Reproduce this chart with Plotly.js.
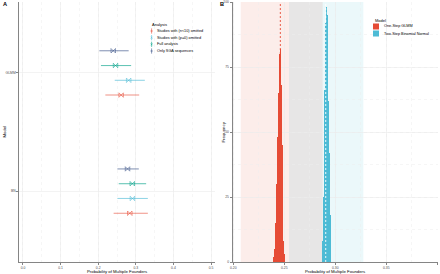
<!DOCTYPE html>
<html>
<head>
<meta charset="utf-8">
<script src="https://cdn.plot.ly/plotly-3.0.1.min.js"></script>
<style>html,body{margin:0;padding:0;background:#fff;}#chart{width:440px;height:274px;}</style>
</head>
<body>
<div id="chart"></div>
<script>
// ---------- DATA ----------
const models = ['BN', 'GLMM'];            // y categories, bottom to top
const analyses = ['Studies with (n<10) omitted', 'Studies with (p=0) omitted', 'Full analysis', 'Only SGA sequences'];
// estimates and interval bounds, ordered as models [BN, GLMM]
const estN10 = [0.284, 0.261];
const loN10  = [0.241, 0.219];
const hiN10  = [0.332, 0.309];
const estP0  = [0.291, 0.281];
const loP0   = [0.251, 0.244];
const hiP0   = [0.332, 0.324];
const estFull = [0.2906, 0.2461];
const loFull  = [0.2546, 0.2073];
const hiFull  = [0.3275, 0.2876];
const estSGA = [0.278, 0.240];
const loSGA  = [0.251, 0.203];
const hiSGA  = [0.308, 0.281];

const histModels = ['One-Step GLMM', 'Two-Step Binomial Normal'];
const glmmBins   = [0.239, 0.240, 0.241, 0.242, 0.243, 0.244, 0.245, 0.246, 0.247, 0.248, 0.249, 0.250];
const glmmCounts = [2, 5, 15, 30, 48, 65, 80, 82, 68, 45, 8, 3];
const bnBins     = [0.287, 0.288, 0.289, 0.290, 0.291, 0.292, 0.293, 0.294, 0.295];
const bnCounts   = [8, 25, 66, 92, 98, 95, 62, 42, 18];
const binWidth = 0.001;

const xTicksA = [0.0, 0.1, 0.2, 0.3, 0.4, 0.5];
const xTicksB = [0.20, 0.25, 0.30, 0.35, 0.40];
const yTicksB = [0, 25, 50, 75, 100];

// ---------- STYLE ----------
const W = 440, H = 274;
const px = v => v / W;
const py = v => 1 - v / H;
const anaColors = ['rgba(230,75,53,0.6)', 'rgba(77,187,213,0.6)', 'rgba(0,160,135,0.6)', 'rgba(60,84,136,0.6)'];
const histColors = ['#E64B35', '#4DBBD5'];
const tickFont = {family: 'Liberation Sans, Arial, sans-serif', size: 3.4, color: '#4D4D4D'};
const titleFont = {family: 'Liberation Sans, Arial, sans-serif', size: 4.3, color: '#000'};
const gridC = '#EBEBEB';

const series = [
  [estN10, loN10, hiN10],
  [estP0, loP0, hiP0],
  [estFull, loFull, hiFull],
  [estSGA, loSGA, hiSGA]
];

const traces = series.map((s, i) => ({
  type: 'scatter', mode: 'markers', orientation: 'h',
  x: s[0], y: models, name: analyses[i],
  xaxis: 'x', yaxis: 'y',
  marker: {symbol: 'bowtie-open', size: 4.5, color: anaColors[i], line: {width: 0.9, color: anaColors[i]}},
  error_x: {type: 'data', symmetric: false,
    array: s[2].map((h, k) => h - s[0][k]),
    arrayminus: s[1].map((l, k) => s[0][k] - l),
    color: anaColors[i], thickness: 1.1, width: 0},
  showlegend: false, hoverinfo: 'skip'
}));

traces.push({
  type: 'bar', x: glmmBins, y: glmmCounts, width: binWidth, name: histModels[0],
  xaxis: 'x2', yaxis: 'y2', marker: {color: histColors[0], line: {width: 0}}, showlegend: false
});
traces.push({
  type: 'bar', x: bnBins, y: bnCounts, width: binWidth, name: histModels[1],
  xaxis: 'x2', yaxis: 'y2', marker: {color: histColors[1], line: {width: 0}}, showlegend: false
});

const shapes = [];
// interval bands (Full analysis intervals): GLMM (index 1), BN (index 0)
shapes.push({type: 'rect', xref: 'x2', yref: 'y2 domain', x0: loFull[1], x1: loFull[0], y0: 0, y1: 1,
  fillcolor: 'rgba(230,75,53,0.1)', line: {width: 0}, layer: 'below'});
shapes.push({type: 'rect', xref: 'x2', yref: 'y2 domain', x0: loFull[0], x1: hiFull[1], y0: 0, y1: 1,
  fillcolor: 'rgba(150,145,145,0.23)', line: {width: 0}, layer: 'below'});
shapes.push({type: 'rect', xref: 'x2', yref: 'y2 domain', x0: hiFull[1], x1: hiFull[0], y0: 0, y1: 1,
  fillcolor: 'rgba(77,187,213,0.11)', line: {width: 0}, layer: 'below'});
// estimate lines
shapes.push({type: 'line', xref: 'x2', yref: 'y2 domain', x0: estFull[1], x1: estFull[1], y0: 0, y1: 1,
  line: {color: histColors[0], width: 0.9, dash: '2px,2px'}, layer: 'above'});
shapes.push({type: 'line', xref: 'x2', yref: 'y2 domain', x0: estFull[0], x1: estFull[0], y0: 0, y1: 1,
  line: {color: '#ffffff', width: 0.9, dash: '2px,2px'}, layer: 'above'});

const annotations = [];
const ann = (x, y, text, opts) => Object.assign({xref: 'paper', yref: 'paper', x: px(x), y: py(y), text: text,
  showarrow: false, xanchor: 'left', yanchor: 'middle', font: Object.assign({}, titleFont, {size: 3.8})}, opts || {});

// panel letters
annotations.push(ann(1.2, 3.8, '<b>A</b>', {font: Object.assign({}, titleFont, {size: 5.6})}));
annotations.push(ann(217.6, 3.8, '<b>B</b>', {font: Object.assign({}, titleFont, {size: 5.6})}));
// axis titles
annotations.push(ann(117, 271.3, 'Probability of Multiple Founders', {xanchor: 'center', font: titleFont}));
annotations.push(ann(335, 271.3, 'Probability of Multiple Founders', {xanchor: 'center', font: titleFont}));
annotations.push(ann(3.5, 132, 'Model', {xanchor: 'center', textangle: -90, font: titleFont}));
annotations.push(ann(222.5, 132, 'Frequency', {xanchor: 'center', textangle: -90, font: titleFont}));

// legend A
annotations.push(ann(149.8, 24, 'Analysis', {font: Object.assign({}, titleFont, {size: 4})}));
const legY = [31, 37.7, 44.3, 51];
analyses.forEach((a, i) => {
  annotations.push(ann(154.6, legY[i], a));
  shapes.push({type: 'line', xref: 'paper', yref: 'paper', x0: px(151.6), x1: px(151.6), y0: py(legY[i] - 2.6), y1: py(legY[i] + 2.6),
    line: {color: anaColors[i], width: 1}});
  shapes.push({type: 'line', xref: 'paper', yref: 'paper', x0: px(150.6), x1: px(152.6), y0: py(legY[i] - 1), y1: py(legY[i] + 1),
    line: {color: anaColors[i], width: 0.7}});
  shapes.push({type: 'line', xref: 'paper', yref: 'paper', x0: px(150.6), x1: px(152.6), y0: py(legY[i] + 1), y1: py(legY[i] - 1),
    line: {color: anaColors[i], width: 0.7}});
});
// legend B
annotations.push(ann(372.5, 20.5, 'Model', {font: Object.assign({}, titleFont, {size: 4})}));
const legYB = [26.5, 33.5];
histModels.forEach((m, i) => {
  shapes.push({type: 'rect', xref: 'paper', yref: 'paper', x0: px(373), x1: px(379), y0: py(legYB[i] - 3), y1: py(legYB[i] + 3),
    fillcolor: histColors[i], line: {width: 0}});
  annotations.push(ann(381.5, legYB[i], m));
});

const axBase = {
  showline: true, linecolor: '#333333', linewidth: 0.6,
  ticks: 'outside', ticklen: 2, tickwidth: 0.6, tickcolor: '#333333',
  tickfont: tickFont, showgrid: true, gridcolor: gridC, gridwidth: 0.6,
  zeroline: false, automargin: false, fixedrange: true
};
const minorDot = dt => ({dtick: dt, showgrid: true, griddash: 'dot', gridcolor: '#EEEEEE', gridwidth: 0.5, ticks: ''});

const yDom = [12 / H, 1 - 2 / H];
const layout = {
  width: W, height: H,
  margin: {l: 0, r: 0, t: 0, b: 0, pad: 0},
  paper_bgcolor: '#ffffff', plot_bgcolor: '#ffffff',
  showlegend: false,
  scattermode: 'group', scattergap: 0.5,
  barmode: 'overlay', bargap: 0,
  xaxis: Object.assign({}, axBase, {domain: [px(19), px(215)], range: [-0.0106, 0.5106], anchor: 'y',
    tickvals: xTicksA, ticktext: xTicksA.map(v => v.toFixed(1)), minor: minorDot(0.05)}),
  yaxis: Object.assign({}, axBase, {domain: yDom, type: 'category', categoryorder: 'array', categoryarray: models,
    range: [-0.6, 1.6], anchor: 'x'}),
  xaxis2: Object.assign({}, axBase, {domain: [px(232.3), px(438)], range: [0.199, 0.4007], anchor: 'y2',
    tickvals: xTicksB, ticktext: xTicksB.map(v => v.toFixed(2)), minor: minorDot(0.025)}),
  yaxis2: Object.assign({}, axBase, {domain: yDom, range: [0, 100], anchor: 'x2',
    tickvals: yTicksB, ticktext: yTicksB.map(String), minor: minorDot(12.5)}),
  shapes: shapes,
  annotations: annotations,
  font: {family: 'Liberation Sans, Arial, sans-serif'}
};

Plotly.newPlot('chart', traces, layout, {displayModeBar: false, staticPlot: true});
</script>
</body>
</html>
